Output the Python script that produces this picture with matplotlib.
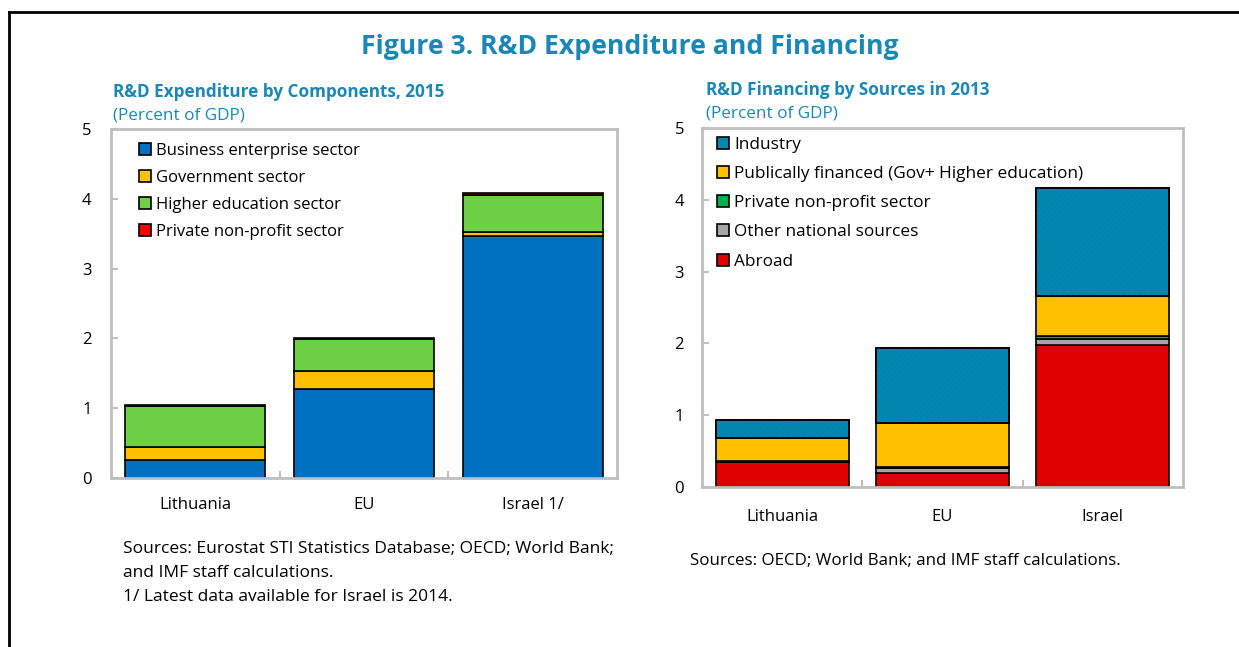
import matplotlib
matplotlib.use("Agg")
import matplotlib.pyplot as plt
from matplotlib.patches import Patch
from matplotlib.lines import Line2D
import numpy as np

plt.rcParams['font.family'] = ['Open Sans', 'DejaVu Sans']
plt.rcParams['hatch.linewidth'] = 0.6

# ---------------- data ----------------
left_categories = ['Lithuania', 'EU', 'Israel 1/']
business = [0.26, 1.28, 3.46]
government = [0.19, 0.25, 0.07]
higher_ed = [0.58, 0.46, 0.52]
private_np_left = [0.01, 0.02, 0.04]

right_categories = ['Lithuania', 'EU', 'Israel']
abroad = [0.35, 0.20, 1.98]
other_national = [0.01, 0.06, 0.08]
private_np_right = [0.005, 0.02, 0.05]
public = [0.32, 0.61, 0.55]
industry = [0.25, 1.04, 1.50]

yticks = [0, 1, 2, 3, 4, 5]

TEAL = '#1A87B6'
W, H = 1239, 647
fig = plt.figure(figsize=(W / 100, H / 100), dpi=100)

def px_axes(x0, y0, x1, y1):
    return fig.add_axes([x0 / W, 1 - y1 / H, (x1 - x0) / W, (y1 - y0) / H])

def style_axes(ax, cats, label_pad_y, label_pad_x):
    ax.set_xlim(-0.5, 2.5)
    ax.set_ylim(0, 5)
    for s in ax.spines.values():
        s.set_color('#BFBFBF')
        s.set_linewidth(2.0)
    ax.set_yticks(yticks)
    ax.set_yticklabels([str(v) for v in yticks], fontsize=12)
    ax.tick_params(axis='y', direction='in', length=5, width=1.5, color='#BFBFBF', pad=label_pad_y)
    ax.set_xticks(range(len(cats)))
    ax.set_xticklabels(cats, fontsize=12)
    ax.tick_params(axis='x', length=0, pad=label_pad_x)
    ax.set_xticks([0.5, 1.5], minor=True)
    ax.tick_params(axis='x', which='minor', direction='in', length=5, width=1.5, color='#BFBFBF')

# ---------------- left chart ----------------
axL = px_axes(111, 129, 617, 478)
x = np.arange(len(left_categories))
bw = 0.83
kw = dict(width=bw, edgecolor='black', linewidth=1.2)
bottom = np.zeros(3)
left_series = [
    (business, '#0070C0', 'Business enterprise sector'),
    (government, '#FFC000', 'Government sector'),
    (higher_ed, '#6DD046', 'Higher education sector'),
    (private_np_left, '#FF0000', 'Private non-profit sector'),
]
for vals, col, lab in left_series:
    axL.bar(x, vals, bottom=bottom, color=col, label=lab, **kw)
    bottom += np.array(vals)
style_axes(axL, left_categories, 14, 14)

handles = [Patch(facecolor=c, edgecolor='black', linewidth=1.2, label=l) for _, c, l in left_series]
axL.legend(handles=handles, loc='upper left', bbox_to_anchor=((139 - 111) / 506, 1 - 14 / 349),
           frameon=False, fontsize=12, handlelength=0.7, handleheight=0.7, handletextpad=0.3,
           labelspacing=0.65, borderaxespad=0, borderpad=0)

# ---------------- right chart ----------------
axR = px_axes(702, 128, 1183, 487)
bottom = np.zeros(3)
right_series = [
    (abroad, '#E00000', 'Abroad'),
    (other_national, '#A6A6A6', 'Other national sources'),
    (private_np_right, '#00B050', 'Private non-profit sector'),
    (public, '#FFC000', 'Publically financed (Gov+ Higher education)'),
    (industry, '#0088B0', 'Industry'),
]
for vals, col, lab in right_series:
    axR.bar(x, vals, bottom=bottom, color=col, label=lab, **kw)
    if lab == 'Industry':
        axR.bar(x, vals, bottom=bottom, width=bw, facecolor='none', edgecolor='#0A7FA6',
                linewidth=0, hatch='//////')
        axR.bar(x, vals, bottom=bottom, width=bw, facecolor='none', edgecolor='black', linewidth=1.2)
    bottom += np.array(vals)
style_axes(axR, right_categories, 13, 16)

handles = [Patch(facecolor=c, edgecolor='black', linewidth=1.2, label=l) for _, c, l in right_series[::-1]]
axR.legend(handles=handles, loc='upper left', bbox_to_anchor=((717 - 702) / 481, 1 - 9 / 359),
           frameon=False, fontsize=12.4, handlelength=0.7, handleheight=0.7, handletextpad=0.3,
           labelspacing=0.76, borderaxespad=0, borderpad=0)

# ---------------- texts ----------------
fig.text(630 / W, 1 - 47 / H, 'Figure 3. R&D Expenditure and Financing', ha='center', va='center',
         fontsize=19.2, fontweight='bold', color=TEAL)
fig.text(113 / W, 1 - 92 / H, 'R&D Expenditure by Components, 2015', ha='left', va='center',
         fontsize=12.3, fontweight='bold', color=TEAL)
fig.text(113 / W, 1 - 116 / H, '(Percent of GDP)', ha='left', va='center', fontsize=12.3, color=TEAL)
fig.text(706 / W, 1 - 90 / H, 'R&D Financing by Sources in 2013', ha='left', va='center',
         fontsize=12.3, fontweight='bold', color=TEAL)
fig.text(706 / W, 1 - 114 / H, '(Percent of GDP)', ha='left', va='center', fontsize=12.3, color=TEAL)

fig.text(123 / W, 1 - 549 / H, 'Sources: Eurostat STI Statistics Database; OECD; World Bank;', ha='left',
         va='center', fontsize=12.5)
fig.text(123 / W, 1 - 573 / H, 'and IMF staff calculations.', ha='left', va='center', fontsize=12.5)
fig.text(123 / W, 1 - 597 / H, '1/ Latest data available for Israel is 2014.', ha='left', va='center',
         fontsize=12.5)
fig.text(690 / W, 1 - 561 / H, 'Sources: OECD; World Bank; and IMF staff calculations.', ha='left',
         va='center', fontsize=12.2)

# frame lines
fig.add_artist(Line2D([9 / W, 9 / W], [0, 1 - 12 / H], color='black', linewidth=2, transform=fig.transFigure))
fig.add_artist(Line2D([9 / W, 1], [1 - 12 / H, 1 - 12 / H], color='black', linewidth=2, transform=fig.transFigure))

fig.savefig('out.png', dpi=100)
